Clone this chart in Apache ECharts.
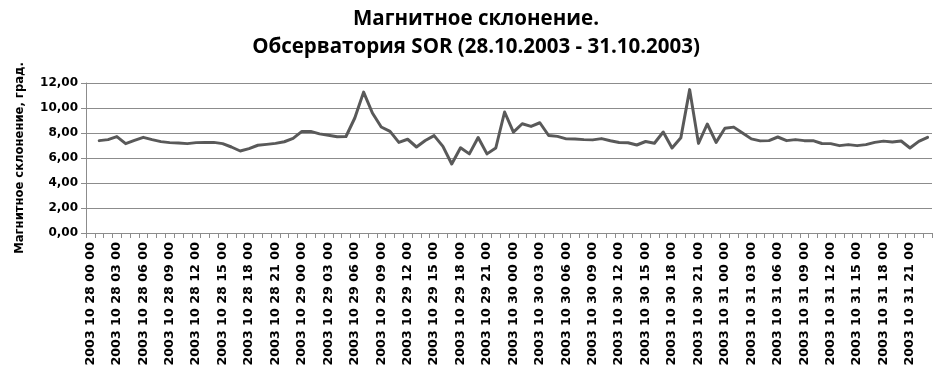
<!DOCTYPE html>
<html>
<head>
<meta charset="utf-8">
<script src="https://cdn.jsdelivr.net/npm/echarts@6/dist/echarts.min.js"></script>
<style>
html,body{margin:0;padding:0;background:#fff;}
#chart{width:945px;height:381px;}
</style>
</head>
<body>
<div id="chart"></div>
<script>
// Categories: hourly timestamps 28.10.2003 00:00 .. 31.10.2003 23:00
const days = ['28', '29', '30', '31'];
const hours = ['00','01','02','03','04','05','06','07','08','09','10','11','12','13','14','15','16','17','18','19','20','21','22','23'];
const categories = [];
days.forEach(d => hours.forEach(h => categories.push('2003 10 ' + d + ' ' + h + ' 00')));

// Magnetic declination, degrees (first hour missing)
const declination = [
  null, 7.39, 7.47, 7.71, 7.15, 7.41, 7.65, 7.47, 7.31, 7.23, 7.20, 7.15,
  7.23, 7.25, 7.25, 7.15, 6.88, 6.56, 6.75, 7.02, 7.09, 7.17, 7.30, 7.57,
  8.13, 8.13, 7.93, 7.82, 7.70, 7.72, 9.20, 11.27, 9.60, 8.48, 8.13, 7.25,
  7.50, 6.88, 7.40, 7.79, 6.93, 5.52, 6.82, 6.33, 7.64, 6.33, 6.80, 9.68,
  8.07, 8.74, 8.53, 8.82, 7.80, 7.73, 7.53, 7.52, 7.47, 7.45, 7.55, 7.38,
  7.24, 7.22, 7.04, 7.32, 7.18, 8.08, 6.80, 7.62, 11.47, 7.17, 8.72, 7.25,
  8.38, 8.47, 8.00, 7.53, 7.37, 7.39, 7.68, 7.39, 7.47, 7.39, 7.39, 7.16,
  7.15, 6.99, 7.07, 6.99, 7.07, 7.25, 7.35, 7.28, 7.36, 6.80, 7.33, 7.65
];

const yTicks = [0, 2, 4, 6, 8, 10, 12];
const titleLines = ['Магнитное склонение.', 'Обсерватория SOR (28.10.2003 - 31.10.2003)'];
const yName = 'Магнитное склонение, град.';

const chart = echarts.init(document.getElementById('chart'), null, {renderer: 'canvas'});
chart.setOption({
  backgroundColor: '#ffffff',
  animation: false,
  title: {
    text: titleLines.join('\n'),
    left: 471,
    textAlign: 'center',
    top: 0,
    textStyle: {
      fontFamily: 'Open Sans',
      fontWeight: 'bold',
      fontSize: 20.5,
      lineHeight: 28,
      color: '#000'
    }
  },
  grid: {left: 86, right: 13, top: 83, bottom: 148},
  xAxis: {
    type: 'category',
    data: categories,
    boundaryGap: true,
    axisLine: {show: true, lineStyle: {color: '#8c8c8c', width: 1}},
    axisTick: {show: true, interval: 0, length: 5, lineStyle: {color: '#8c8c8c'}},
    axisLabel: {
      interval: 2,
      rotate: 90,
      margin: 9,
      fontFamily: 'DejaVu Sans',
      fontWeight: 'bold',
      fontSize: 12.7,
      color: '#000'
    },
    splitLine: {show: false}
  },
  yAxis: {
    type: 'value',
    min: yTicks[0],
    max: yTicks[yTicks.length - 1],
    interval: 2,
    name: yName,
    nameLocation: 'middle',
    nameGap: 60,
    nameRotate: 90,
    nameTextStyle: {
      fontFamily: 'DejaVu Sans',
      fontWeight: 'bold',
      fontSize: 11.6,
      color: '#000'
    },
    axisLine: {show: true, lineStyle: {color: '#8c8c8c', width: 1}},
    axisTick: {show: true, length: 5, lineStyle: {color: '#8c8c8c'}},
    axisLabel: {
      margin: 8,
      fontFamily: 'DejaVu Sans',
      fontWeight: 'bold',
      fontSize: 12,
      color: '#000',
      formatter: v => v.toFixed(2).replace('.', ',')
    },
    splitLine: {show: true, lineStyle: {color: '#8c8c8c', width: 1}}
  },
  series: [{
    type: 'line',
    data: declination,
    showSymbol: false,
    symbol: 'none',
    connectNulls: false,
    lineStyle: {color: '#595959', width: 3, join: 'round', cap: 'round'}
  }]
});
</script>
</body>
</html>
